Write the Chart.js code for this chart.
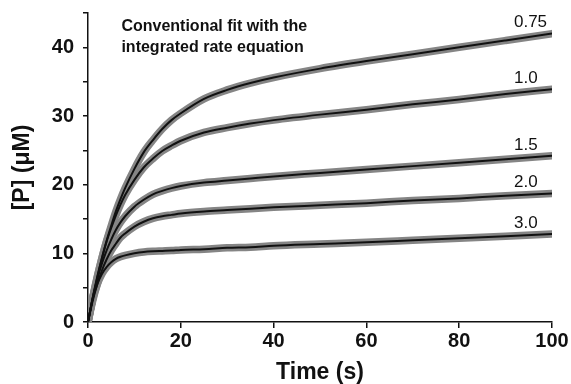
<!DOCTYPE html>
<html lang="en">

<head>
	<meta charset="UTF-8">
	<title>Burst kinetics</title>
	<style>
		body { margin: 0; background: #fff; }
	</style>
</head>

<body>
	<canvas id="myChart" width="571" height="384"></canvas>

	<script src="https://cdn.jsdelivr.net/npm/chart.js"></script>
	<script>
		// time points (s)
		const times = [0, 1, 2, 3, 4, 5, 6, 7, 8, 10, 12, 14, 16, 18, 20, 25, 30, 35, 40, 50, 60, 70, 80, 90, 100];

		// [P] (uM) for each substrate/enzyme ratio
		const p075 = [0, 3.4, 6.5, 9.3, 11.8, 14.0, 16.1, 17.9, 19.5, 22.3, 24.7, 26.5, 28.1, 29.4, 30.4, 32.5, 33.8, 34.8, 35.6, 36.9, 38.0, 39.0, 40.0, 41.0, 42.0];
		const p10 = [0, 3.5, 6.6, 9.3, 11.7, 13.7, 15.5, 17.1, 18.5, 20.7, 22.5, 23.8, 24.9, 25.7, 26.4, 27.6, 28.3, 28.9, 29.4, 30.2, 30.9, 31.7, 32.4, 33.2, 33.9];
		const p15 = [0, 3.4, 6.2, 8.5, 10.4, 12.0, 13.4, 14.5, 15.4, 16.8, 17.8, 18.6, 19.1, 19.5, 19.8, 20.3, 20.6, 20.9, 21.2, 21.7, 22.2, 22.7, 23.2, 23.7, 24.2];
		const p20 = [0, 3.05, 5.5, 7.5, 9.1, 10.4, 11.4, 12.3, 12.9, 13.9, 14.6, 15.1, 15.4, 15.6, 15.8, 16.1, 16.3, 16.5, 16.7, 17.0, 17.3, 17.7, 18.0, 18.4, 18.7];
		const p30 = [0, 3.3, 5.5, 7.0, 8.0, 8.7, 9.2, 9.5, 9.7, 10.0, 10.2, 10.3, 10.35, 10.4, 10.5, 10.6, 10.8, 10.9, 11.1, 11.35, 11.6, 11.9, 12.2, 12.5, 12.8];

		const seriesLabels = ['0.75', '1.0', '1.5', '2.0', '3.0'];
		const seriesValues = [p075, p10, p15, p20, p30];

		const xTicks = [0, 20, 40, 60, 80, 100];
		const yTicks = [0, 10, 20, 30, 40];

		const toPoints = (vals) => vals.map((v, i) => ({ x: times[i], y: v }));

		const datasets = [];
		// thick grey "data" traces (drawn underneath: higher order)
		seriesValues.forEach((vals, i) => {
			datasets.push({
				label: 'data ' + seriesLabels[i],
				data: toPoints(vals),
				order: 2,
				borderColor: '#858585',
				borderWidth: 7.5,
				pointRadius: 0,
				showLine: true,
				fill: false,
				cubicInterpolationMode: 'monotone',
				borderCapStyle: 'round'
			});
		});
		// black fit lines on top
		seriesValues.forEach((vals, i) => {
			datasets.push({
				label: seriesLabels[i],
				data: toPoints(vals),
				order: 1,
				borderColor: '#111',
				borderWidth: 2,
				pointRadius: 0,
				showLine: true,
				fill: false,
				cubicInterpolationMode: 'monotone'
			});
		});

		const labelPlugin = {
			id: 'curve_labels',
			afterDraw: (chart) => {
				const ctx = chart.ctx;
				const xs = chart.scales.x;
				const ys = chart.scales.y;
				ctx.save();
				ctx.fillStyle = '#111';
				ctx.font = '17px "Liberation Sans", Arial, sans-serif';
				ctx.textAlign = 'left';
				ctx.textBaseline = 'middle';
				seriesValues.forEach((vals, i) => {
					const last = vals[vals.length - 1];
					ctx.fillText(seriesLabels[i], xs.getPixelForValue(91.8), ys.getPixelForValue(last) - 11);
				});
				// note in the top left
				ctx.font = 'bold 16px "Liberation Sans", Arial, sans-serif';
				ctx.fillText('Conventional fit with the', xs.getPixelForValue(7.2), ys.getPixelForValue(43.0));
				ctx.fillText('integrated rate equation', xs.getPixelForValue(7.2), ys.getPixelForValue(40.0));
				ctx.restore();
			}
		};

		const axisFont = { family: '"Liberation Sans", Arial, sans-serif', size: 20, weight: 'bold' };

		const config = {
			type: 'scatter',
			data: { datasets: datasets },
			plugins: [labelPlugin],
			options: {
				responsive: false,
				animation: false,
				layout: { padding: { top: 13, right: 19, left: 0, bottom: 0 } },
				plugins: {
					legend: { display: false },
					tooltip: { enabled: false }
				},
				scales: {
					x: {
						type: 'linear',
						min: 0,
						max: 100,
						afterBuildTicks: (scale) => { scale.ticks = xTicks.map(v => ({ value: v })); },
						afterFit: (scale) => { scale.height = 62; },
						ticks: { color: '#111', font: axisFont, padding: 1, maxRotation: 0 },
						grid: { drawOnChartArea: false, drawTicks: true, tickLength: 6, color: '#111', lineWidth: 1.5 },
						border: { display: true, color: '#111', width: 1.5 },
						title: {
							display: true, text: 'Time (s)', color: '#111',
							font: { family: '"Liberation Sans", Arial, sans-serif', size: 23, weight: 'bold', lineHeight: 1 },
							padding: { top: 0, bottom: 0 }
						}
					},
					y: {
						type: 'linear',
						min: 0,
						max: 45,
						ticks: {
							stepSize: 5,
							color: '#111',
							font: axisFont,
							padding: 9,
							callback: (v) => (yTicks.includes(v) ? String(v) : '')
						},
						afterFit: (scale) => {
							scale.width = 88;
							scale.paddingTop = 0;
							scale.paddingBottom = 0;
						},
						grid: { drawOnChartArea: false, drawTicks: true, tickLength: 5, color: '#111', lineWidth: 1.5 },
						border: { display: true, color: '#111', width: 1.5 },
						title: {
							display: true, text: '[P] (μM)', color: '#111',
							font: { family: '"Liberation Sans", Arial, sans-serif', size: 23, weight: 'bold', lineHeight: 1 },
							padding: { top: 11, bottom: 0 }
						}
					}
				}
			}
		};

		const myChart = new Chart(document.getElementById('myChart'), config);
	</script>
</body>

</html>
